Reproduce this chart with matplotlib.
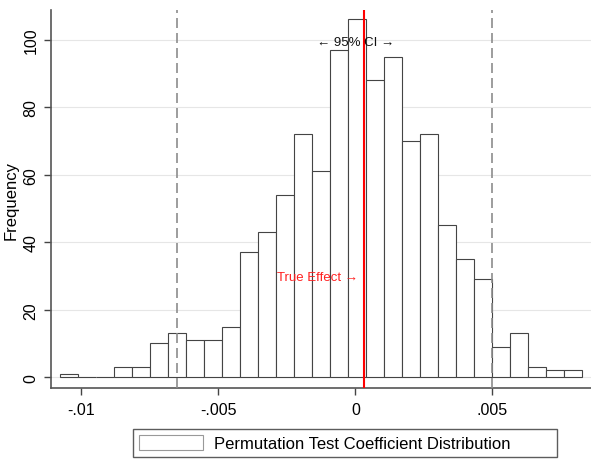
# Permutation test histogram (Stata-style look)

import numpy as np
import matplotlib
matplotlib.use('Agg')
import matplotlib.pyplot as plt
from matplotlib.patches import Patch

plt.rcParams['font.family'] = ['Liberation Sans', 'DejaVu Sans']

# Histogram data
bin_start = -0.01079
bin_width = 0.000657
counts = [1, 0, 0, 3, 3, 10, 13, 11, 11, 15, 37, 43, 54, 72, 61,
          97, 106, 88, 95, 70, 72, 45, 35, 29, 9, 13, 3, 2, 2]

ci_low = -0.0065
ci_high = 0.00499
true_effect = 0.0003

xticks = [-0.01, -0.005, 0, 0.005]
xtick_labels = ['-.01', '-.005', '0', '.005']
yticks = [0, 20, 40, 60, 80, 100]

edges = bin_start + bin_width * np.arange(len(counts) + 1)

fig = plt.figure(figsize=(5.91, 4.60), dpi=100)
ax = fig.add_axes([51 / 591, 71 / 460, 540 / 591, 378 / 460])

ax.bar(edges[:-1], counts, width=bin_width, align='edge', color='white',
       edgecolor='#444444', linewidth=0.8, zorder=2)

# confidence band and true effect
ax.axvline(ci_low, color='#8c8c8c', linestyle=(0, (6, 3)), linewidth=1.2, zorder=3)
ax.axvline(ci_high, color='#8c8c8c', linestyle=(0, (6, 3)), linewidth=1.2, zorder=3)
ax.axvline(true_effect, color='#ff0000', linewidth=1.5, zorder=4)

ax.text(0.00002, 99.4, '\u2190 95% CI \u2192', ha='center', va='center',
        fontsize=9.5, color='#111111', zorder=5)
ax.text(true_effect - 0.0002, 29.6, 'True Effect \u2192', ha='right', va='center',
        fontsize=9.5, color='#ff2020', zorder=5)

ax.set_xlim(-0.01111, 0.0086)
ax.set_ylim(-3.2, 108.8)
ax.set_xticks(xticks)
ax.set_xticklabels(xtick_labels)
ax.set_yticks(yticks)
ax.set_yticklabels([str(v) for v in yticks], rotation=90, va='center')
ax.tick_params(axis='both', labelsize=11.5, length=5, width=1, color='#444444')
ax.tick_params(axis='x', pad=5)
ax.tick_params(axis='y', pad=4)
ax.set_ylabel('Frequency', fontsize=12)
ax.yaxis.set_label_coords(-0.060, 0.5)

ax.grid(axis='y', color='#e6e6e6', linewidth=0.8, zorder=0)
ax.set_axisbelow(True)
for side in ['top', 'right']:
    ax.spines[side].set_visible(False)
for side in ['left', 'bottom']:
    ax.spines[side].set_color('#555555')
    ax.spines[side].set_linewidth(1.2)

handle = Patch(facecolor='white', edgecolor='#999999', linewidth=0.8)
leg = fig.legend([handle], ['Permutation Test Coefficient Distribution'],
                 loc='lower left', bbox_to_anchor=(133 / 591, 2 / 460, 424 / 591, 30 / 460),
                 mode='expand', borderaxespad=0, fancybox=False, fontsize=12,
                 handlelength=3.85, handleheight=0.96, handletextpad=0.63,
                 borderpad=0.35)
leg.get_frame().set_edgecolor('#333333')
leg.get_frame().set_linewidth(1.0)

plt.savefig('out.png', dpi=100)
